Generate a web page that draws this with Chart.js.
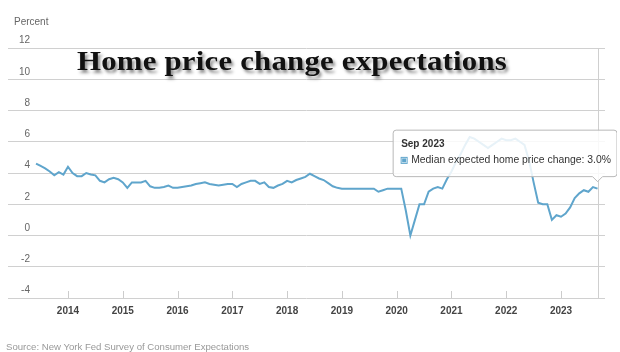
<!DOCTYPE html>
<html>
<head>
<meta charset="utf-8">
<script src="https://cdn.jsdelivr.net/npm/chart.js@4.4.1/dist/chart.umd.min.js"></script>
<style>
html, body { margin: 0; padding: 0; background: #fff; width: 620px; height: 352px; overflow: hidden; }
#wrap { position: relative; width: 620px; height: 352px; }
#c { position: absolute; left: 0; top: 0; }
.unit { position: absolute; left: 14px; top: 16px; font: 10px 'Liberation Sans', Arial, sans-serif; line-height: 12px; color: #666; }
.title { position: absolute; left: 77px; top: 47px; font: bold 28px 'Liberation Serif', 'Times New Roman', serif; line-height: 1; letter-spacing: 0.2px; color: #111; white-space: nowrap; transform: scaleX(1.1); transform-origin: 0 0; text-shadow: 2px 3px 3px rgba(0,0,0,0.45); }
.source { position: absolute; left: 6px; top: 342px; font: 9.6px 'Liberation Sans', Arial, sans-serif; line-height: 10px; color: #999; white-space: nowrap; }
</style>
</head>
<body>
<div id="wrap">
  <canvas id="c" width="617" height="352"></canvas>
  <div class="unit">Percent</div>
  <div class="title">Home price change expectations</div>
  <div class="source">Source: New York Fed Survey of Consumer Expectations</div>
</div>
<script>
(() => {
'use strict';

const monthNames = ['Jan', 'Feb', 'Mar', 'Apr', 'May', 'Jun', 'Jul', 'Aug', 'Sep', 'Oct', 'Nov', 'Dec'];
const firstYear = 2013;
const firstMonth = 6; // series starts Jun 2013, monthly
const seriesLabel = 'Median expected home price change';

// one row per calendar year
const medianExpected = [
    4.6, 4.45, 4.3, 4.1, 3.85, 4.05, 3.9,                     // 2013 (Jun-Dec)
    4.4, 4.0, 3.8, 3.8, 4.0, 3.9, 3.85, 3.5, 3.4, 3.6, 3.7, 3.6,  // 2014
    3.4, 3.05, 3.4, 3.4, 3.4, 3.5, 3.15, 3.05, 3.05, 3.1, 3.2, 3.05, // 2015
    3.05, 3.1, 3.15, 3.2, 3.3, 3.35, 3.4, 3.3, 3.25, 3.2, 3.25, 3.3, // 2016
    3.3, 3.1, 3.3, 3.4, 3.5, 3.5, 3.3, 3.4, 3.1, 3.05, 3.2, 3.3,     // 2017
    3.5, 3.4, 3.55, 3.65, 3.75, 3.95, 3.8, 3.65, 3.55, 3.35, 3.15, 3.05, // 2018
    3.0, 3.0, 3.0, 3.0, 3.0, 3.0, 3.0, 3.0, 2.8, 2.9, 3.0, 3.0,      // 2019
    3.0, 3.0, 1.6, 0.0, 1.0, 2.0, 2.0, 2.8, 3.0, 3.1, 3.0, 3.6,      // 2020
    4.1, 4.7, 5.2, 5.8, 6.3, 6.2, 6.0, 5.8, 5.6, 5.8, 6.0, 6.2,      // 2021
    6.1, 6.1, 6.2, 6.0, 5.8, 4.8, 3.4, 2.1, 2.0, 2.0, 1.0, 1.3,      // 2022
    1.2, 1.4, 1.8, 2.4, 2.7, 2.9, 2.8, 3.1, 3.0                      // 2023 (Jan-Sep)
];

const yearTicks = [2014, 2015, 2016, 2017, 2018, 2019, 2020, 2021, 2022, 2023];
const yMin = -4, yMax = 12, yStep = 2;

const LINE = '#5fa5cc';
const FONT = "'Liberation Sans', Arial, sans-serif";

const points = medianExpected.map((v, i) => {
    const m = firstMonth - 1 + i;
    return {
        x: firstYear + m / 12,
        y: v,
        label: monthNames[m % 12] + ' ' + (firstYear + Math.floor(m / 12))
    };
});

// y labels sit above their grid lines, short year ticks point up, crosshair on the hovered month
const decor = {
    id: 'decor',
    beforeDatasetsDraw(chart) {
        const { ctx, chartArea: a, scales: { x, y } } = chart;
        ctx.save();
        ctx.font = '10px ' + FONT;
        ctx.fillStyle = '#666';
        ctx.textAlign = 'right';
        ctx.textBaseline = 'middle';
        y.ticks.forEach(t => ctx.fillText(String(t.value), 30, y.getPixelForValue(t.value) - 7.5));

        ctx.strokeStyle = '#ccc';
        ctx.lineWidth = 1;
        x.ticks.forEach(t => {
            const px = Math.round(x.getPixelForValue(t.value)) + 0.5;
            ctx.beginPath();
            ctx.moveTo(px, a.bottom - 7);
            ctx.lineTo(px, a.bottom);
            ctx.stroke();
        });

        const act = chart.tooltip.getActiveElements();
        if (act.length) {
            const px = Math.round(act[0].element.x) + 0.5;
            ctx.strokeStyle = '#cfcfcf';
            ctx.beginPath();
            ctx.moveTo(px, a.top);
            ctx.lineTo(px, a.bottom);
            ctx.stroke();
        }
        ctx.restore();
    }
};

const chart = new Chart(document.getElementById('c'), {
    type: 'line',
    data: {
        datasets: [{
            label: seriesLabel,
            data: points,
            borderColor: LINE,
            backgroundColor: LINE,
            borderWidth: 2,
            tension: 0,
            pointRadius: 0,
            pointHoverRadius: 0,
            fill: false
        }]
    },
    options: {
        responsive: false,
        animation: false,
        events: [],
        layout: { padding: { top: 48, left: 8, right: 12, bottom: 0 } },
        scales: {
            x: {
                type: 'linear',
                min: 2012.905,
                max: 2023.803,
                afterBuildTicks: s => { s.ticks = yearTicks.map(v => ({ value: v })); },
                afterFit: s => { s.height = 54; },
                grid: { display: false, drawTicks: false },
                border: { display: false },
                ticks: {
                    padding: 7,
                    color: '#444',
                    font: { family: FONT, size: 10, weight: 'bold' },
                    callback: v => String(v),
                    maxRotation: 0
                }
            },
            y: {
                min: yMin,
                max: yMax,
                afterFit: s => { s.width = 0; },
                grid: { color: '#d0d0d0', lineWidth: 1, drawTicks: false },
                border: { display: false },
                ticks: { stepSize: yStep, display: false }
            }
        },
        plugins: {
            legend: { display: false },
            title: { display: false },
            tooltip: {
                mode: 'index',
                intersect: false,
                xAlign: 'center',
                yAlign: 'bottom',
                backgroundColor: 'rgba(255,255,255,0.85)',
                borderColor: '#b8b8b8',
                borderWidth: 1,
                cornerRadius: 3,
                caretSize: 5,
                caretPadding: 7,
                padding: { top: 8, bottom: 10, left: 8, right: 6 },
                titleColor: '#333',
                bodyColor: '#333',
                titleFont: { family: FONT, size: 10, weight: 'bold' },
                bodyFont: { family: FONT, size: 10.4 },
                titleMarginBottom: 4,
                boxWidth: 6,
                boxHeight: 6,
                boxPadding: 2,
                callbacks: {
                    title: items => items[0].raw.label,
                    label: item => item.dataset.label + ': ' + item.parsed.y.toFixed(1) + '%',
                    labelColor: () => ({ borderColor: LINE, backgroundColor: LINE, borderWidth: 0 })
                }
            }
        }
    },
    plugins: [decor]
});

const last = points.length - 1;
chart.setActiveElements([{ datasetIndex: 0, index: last }]);
chart.tooltip.setActiveElements([{ datasetIndex: 0, index: last }], { x: 0, y: 0 });
chart.update('none');
})();
</script>
</body>
</html>
